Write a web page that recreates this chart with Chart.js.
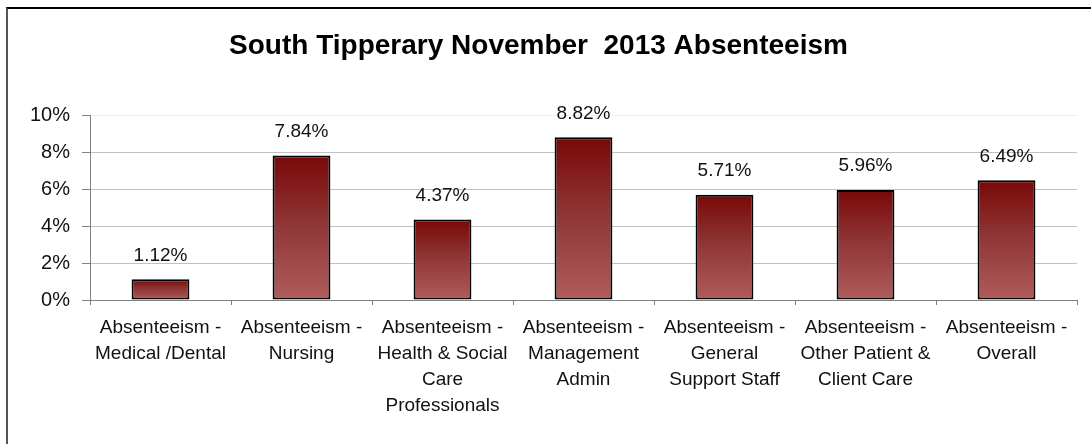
<!DOCTYPE html>
<html>
<head>
<meta charset="utf-8">
<script src="https://cdn.jsdelivr.net/npm/chart.js@4/dist/chart.umd.min.js"></script>
<style>
    html, body { margin: 0; padding: 0; background: #fff; overflow: hidden; }
    #wrap { position: relative; width: 1091px; height: 444px; }
    #frame {
        position: absolute; left: 6px; top: 7px; width: 1200px; height: 600px;
        border-left: 2px solid #555; border-top: 2px solid #000;
    }
    canvas { position: absolute; left: 0; top: 0; }
</style>
</head>
<body>
<div id="wrap">
    <div id="frame"></div>
    <canvas id="absence-chart" width="1091" height="444"></canvas>
</div>
<script>
// Absenteeism rates by staff category
const categories = [
    ['Absenteeism -', 'Medical /Dental'],
    ['Absenteeism -', 'Nursing'],
    ['Absenteeism -', 'Health & Social', 'Care', 'Professionals'],
    ['Absenteeism -', 'Management', 'Admin'],
    ['Absenteeism -', 'General', 'Support Staff'],
    ['Absenteeism -', 'Other Patient &', 'Client Care'],
    ['Absenteeism -', 'Overall']
];
const rates = [1.12, 7.84, 4.37, 8.82, 5.71, 5.96, 6.49];
const yTicks = [0, 2, 4, 6, 8, 10];

const fontFamily = "'Liberation Sans', Arial, sans-serif";

// per-bar vertical gradient, dark red at top fading down
function barGradient(ctx) {
    const chart = ctx.chart;
    const y = chart.scales.y;
    if (!y || typeof ctx.raw !== 'number') return '#8b2020';
    const top = y.getPixelForValue(ctx.raw);
    const bottom = y.getPixelForValue(0);
    if (!isFinite(top) || !isFinite(bottom) || top === bottom) return '#8b2020';
    const g = chart.ctx.createLinearGradient(0, top, 0, bottom);
    g.addColorStop(0, '#7a0808');
    g.addColorStop(0.45, '#8e3434');
    g.addColorStop(1, '#b05c5c');
    return g;
}

// value labels above each bar
const valueLabels = {
    id: 'valueLabels',
    afterDatasetsDraw(chart) {
        const ctx = chart.ctx;
        const meta = chart.getDatasetMeta(0);
        ctx.save();
        ctx.font = '19px ' + fontFamily;
        ctx.fillStyle = '#111';
        ctx.textAlign = 'center';
        ctx.textBaseline = 'middle';
        meta.data.forEach((bar, i) => {
            ctx.fillText(rates[i].toFixed(2) + '%', bar.x, bar.y - 24);
        });
        ctx.restore();
    }
};

new Chart(document.getElementById('absence-chart'), {
    type: 'bar',
    data: {
        labels: categories,
        datasets: [{
            data: rates,
            backgroundColor: barGradient,
            borderColor: '#000',
            borderWidth: 2,
            borderSkipped: false,
            barPercentage: 0.41,
            categoryPercentage: 1
        }]
    },
    options: {
        responsive: false,
        animation: false,
        events: [],
        layout: { padding: { left: 0, right: 14, top: 0, bottom: 0 } },
        scales: {
            x: {
                afterFit: s => { s.height = 144; },
                grid: {
                    offset: true,
                    drawOnChartArea: false,
                    drawTicks: true,
                    tickLength: 5,
                    tickColor: '#808080'
                },
                border: { color: '#808080', width: 1 },
                ticks: {
                    color: '#111',
                    padding: 10,
                    maxRotation: 0,
                    autoSkip: false,
                    font: { family: fontFamily, size: 19, lineHeight: 1.37 }
                }
            },
            y: {
                min: 0,
                max: 10,
                afterFit: s => { s.width = 90; },
                afterBuildTicks: s => { s.ticks = yTicks.map(v => ({ value: v })); },
                grid: {
                    color: c => (c.tick && c.tick.value === 10) ? '#eeeeee' : '#c0c0c0',
                    tickLength: 8,
                    tickColor: '#808080'
                },
                border: { color: '#808080', width: 1 },
                ticks: {
                    color: '#111',
                    padding: 12,
                    font: { family: fontFamily, size: 20 },
                    callback: v => v + '%'
                }
            }
        },
        plugins: {
            legend: { display: false },
            tooltip: { enabled: false },
            title: {
                display: true,
                text: 'South Tipperary November  2013 Absenteeism',
                color: '#000',
                font: { family: fontFamily, size: 28, weight: 'bold', lineHeight: 1.2 },
                padding: { top: 29, bottom: 53 }
            }
        }
    },
    plugins: [valueLabels]
});
</script>
</body>
</html>
